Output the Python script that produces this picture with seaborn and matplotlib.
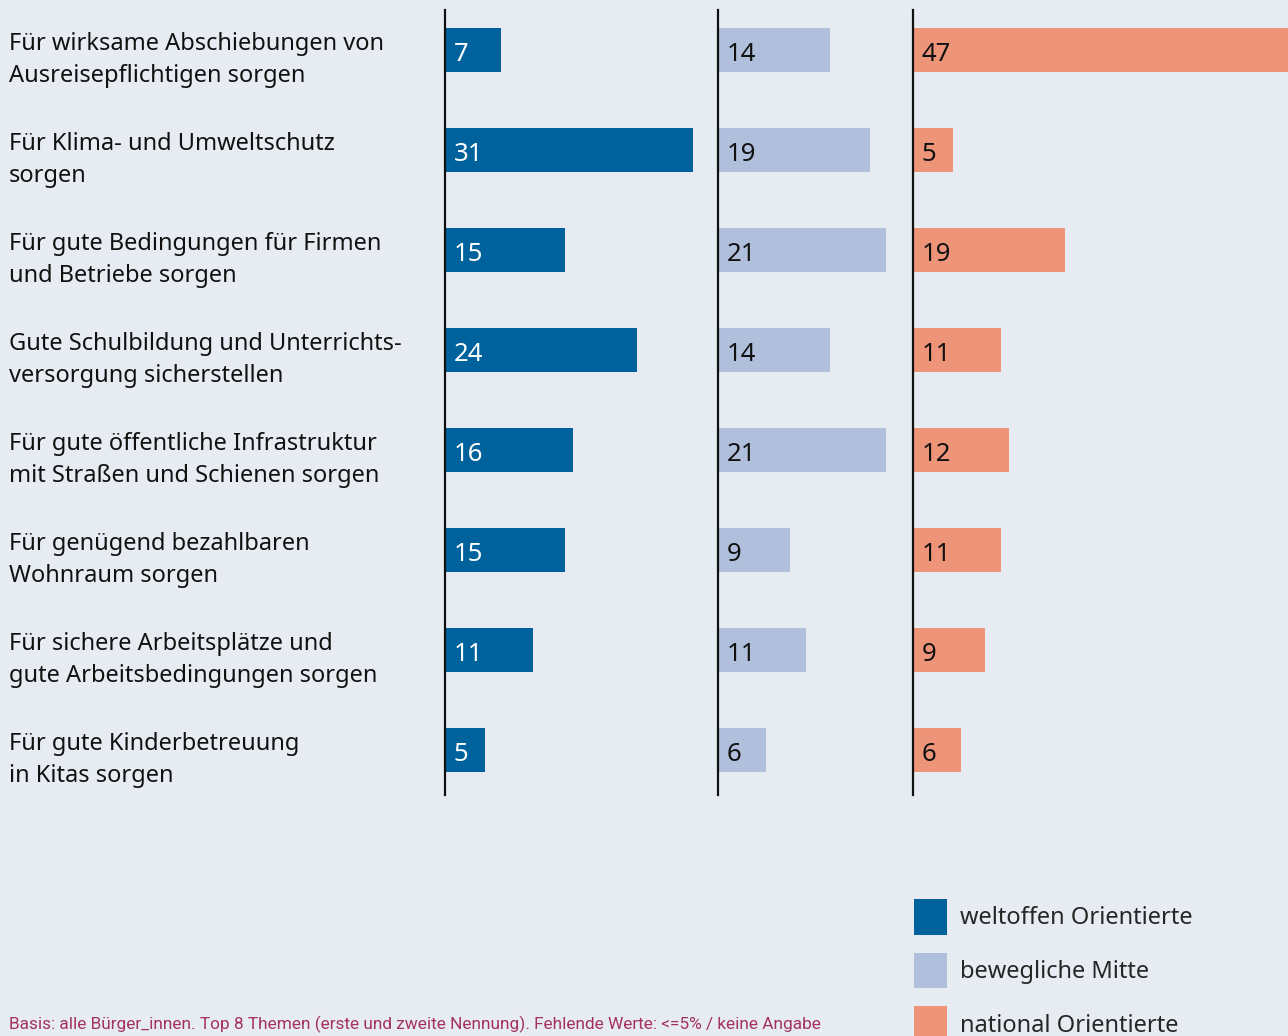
import matplotlib
matplotlib.use("Agg")
import matplotlib.pyplot as plt
import matplotlib.transforms as mtransforms
from matplotlib.patches import Patch
import seaborn as sns
import pandas as pd

categories = [
    "Für wirksame Abschiebungen von\nAusreisepflichtigen sorgen",
    "Für Klima- und Umweltschutz\nsorgen",
    "Für gute Bedingungen für Firmen\nund Betriebe sorgen",
    "Gute Schulbildung und Unterrichts-\nversorgung sicherstellen",
    "Für gute öffentliche Infrastruktur\nmit Straßen und Schienen sorgen",
    "Für genügend bezahlbaren\nWohnraum sorgen",
    "Für sichere Arbeitsplätze und\ngute Arbeitsbedingungen sorgen",
    "Für gute Kinderbetreuung\nin Kitas sorgen",
]
weltoffen = [7, 31, 15, 24, 16, 15, 11, 5]
mitte = [14, 19, 21, 14, 21, 9, 11, 6]
national = [47, 5, 19, 11, 12, 11, 9, 6]
series_names = ["weltoffen Orientierte", "bewegliche Mitte", "national Orientierte"]
colors = ["#00629c", "#b0c0dc", "#ee9478"]
text_colors = ["white", "#111111", "#111111"]
footnote = "Basis: alle Bürger_innen. Top 8 Themen (erste und zweite Nennung). Fehlende Werte: <=5% / keine Angabe"

BG = "#e7ecf3"
sns.set_theme(style="white")
plt.rcParams["font.family"] = ["Noto Sans", "DejaVu Sans"]

W, H = 1288, 1036
fig = plt.figure(figsize=(W / 100, H / 100), dpi=100)
fig.patch.set_facecolor(BG)

scale = 8.0  # px per unit
y_top, y_bot = 10, 795
panels = [(445, 718), (718, 913), (913, 1288)]
all_values = [weltoffen, mitte, national]

axes = []
for (x0, x1), vals, col, tcol in zip(panels, all_values, colors, text_colors):
    ax = fig.add_axes([x0 / W, (H - y_bot) / H, (x1 - x0) / W, (y_bot - y_top) / H])
    ax.set_facecolor("none")
    df = pd.DataFrame({"cat": categories, "val": vals})
    sns.barplot(data=df, x="val", y="cat", orient="h", color=col, width=0.44,
                saturation=1, ax=ax, order=categories, linewidth=0, edgecolor="none")
    ax.set_xlim(0, (x1 - x0) / scale)
    ax.set_ylim(7.45, -0.4)
    for i, v in enumerate(vals):
        ax.text(1.1, i + 0.045, str(v), va="center", ha="left", fontsize=18.5, color=tcol)
    for s in ["top", "right", "bottom"]:
        ax.spines[s].set_visible(False)
    ax.spines["left"].set_color("#111111")
    ax.spines["left"].set_linewidth(1.6)
    ax.spines["left"].set_zorder(5)
    ax.set_xticks([])
    ax.set_yticks([])
    ax.set_xlabel("")
    ax.set_ylabel("")
    axes.append(ax)

trans = mtransforms.blended_transform_factory(fig.transFigure, axes[0].transData)
for i, c in enumerate(categories):
    axes[0].text(9 / W, i + 0.10, c, transform=trans, ha="left", va="center",
                 fontsize=17, color="#111111", linespacing=1.45)

handles = [Patch(facecolor=c, edgecolor="none") for c in colors]
fig.legend(handles, series_names, loc="upper left",
           bbox_to_anchor=(914 / W, 1 - 899 / H), frameon=False, fontsize=17,
           handlelength=1.4, handleheight=1.95, labelspacing=0.76,
           handletextpad=0.55, borderpad=0, borderaxespad=0)

fig.text(9 / W, 1 - 1024 / H, footnote, ha="left", va="center", fontsize=12.4,
         color="#a3325d", family=["Roboto", "DejaVu Sans"])

fig.savefig("out.png", dpi=100, facecolor=BG)
